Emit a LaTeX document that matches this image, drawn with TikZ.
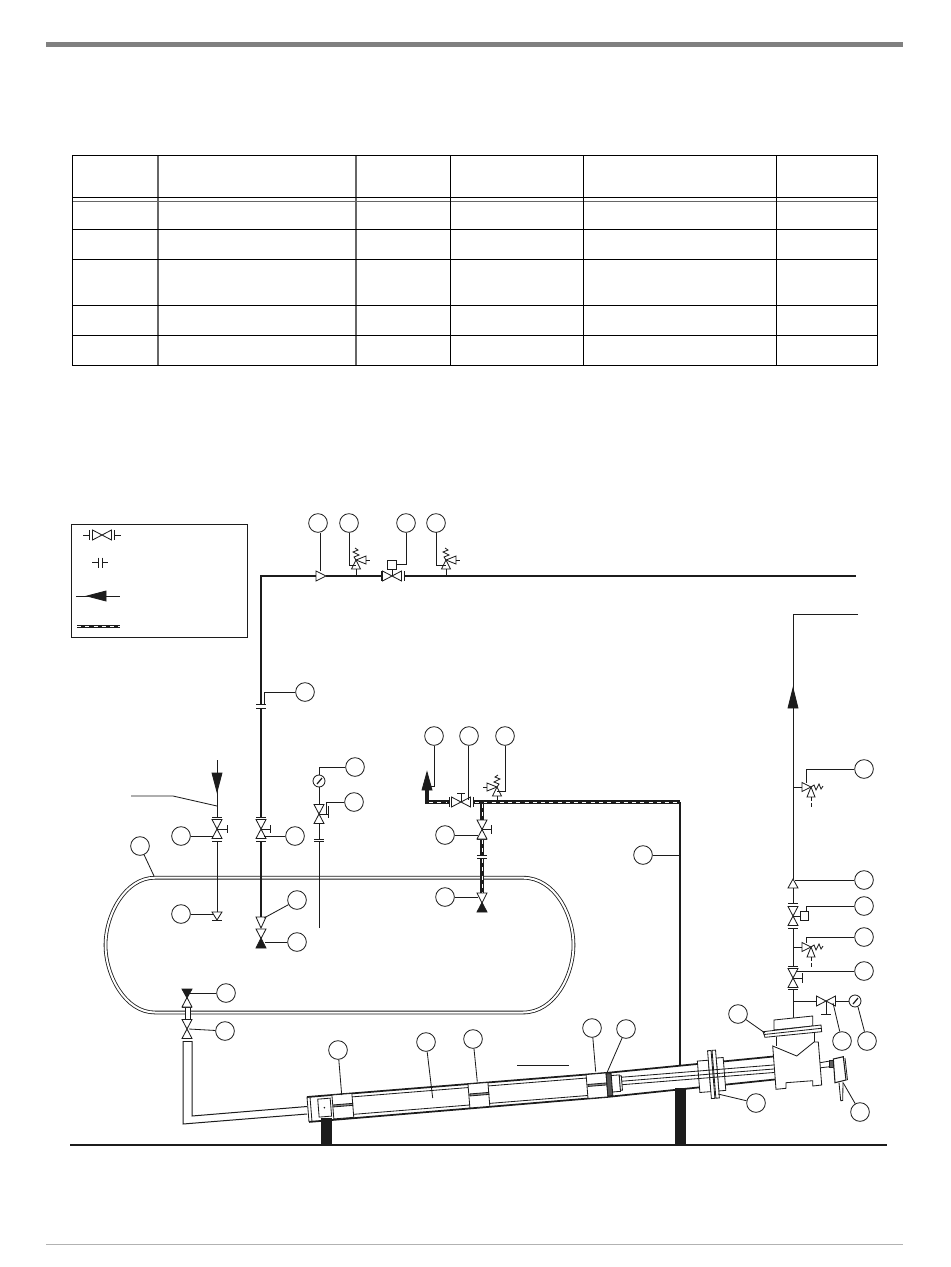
\documentclass[tikz,border=0pt]{standalone}
\usetikzlibrary{calc}
\definecolor{ink}{HTML}{1C1C1C}
\tikzset{
  ln/.style={draw=ink,line width=0.62pt,line join=miter},
  sym/.style={ln,fill=white},
  solid sym/.style={ln,fill=ink},
  pipe/.style={draw=ink,line width=2.1pt},
  dashpipe/.style={draw=ink,line width=2.4pt},
  dashcore/.style={draw=white,line width=0.7pt,dash pattern=on 3pt off 3.2pt},
  cal/.style={circle,draw=ink,line width=0.62pt,minimum size=14pt,inner sep=0pt},
  relief/.pic={
    \draw[sym] (0,0) -- (-4.5,9) -- (4.5,9) -- cycle;
    \draw[ln] (0,9) -- (0,16);
    \draw[sym] (0,0) -- (10,-4) -- (10,4) -- cycle;
    \draw[ln] (10,0) -- (14,0);
    \draw[ln] (0,0) -- (-2,-3) -- (3,-5) -- (-3,-8) -- (2,-10) -- (-1,-12);
  }
}
\newcommand{\VTri}[4][sym]{\draw[#1] (#2,#3) -- ({#2-5},#4) -- ({#2+5},#4) -- cycle;}
\newcommand{\HTri}[4][sym]{\draw[#1] (#3,#2) -- (#4,{#2-5}) -- (#4,{#2+5}) -- cycle;}
\newcommand{\VValve}[2]{\VTri{#1}{#2}{#2-9.5}\VTri{#1}{#2}{#2+9.5}}
\newcommand{\HValve}[2]{\HTri{#2}{#1}{#1-9.5}\HTri{#2}{#1}{#1+9.5}}
\newcommand{\VFl}[2]{\draw[ln] ({#1-5},#2) -- ({#1+5},#2);}
\newcommand{\HFl}[2]{\draw[ln] (#1,{#2-5}) -- (#1,{#2+5});}
\newcommand{\Gauge}[3]{\node[cal,minimum size=9pt] (#1) at (#2,#3) {};\draw[ink,line width=0.9pt] ({#2-2},{#3+3}) -- ({#2+3},{#3-3});}
\begin{document}
\begin{tikzpicture}[x=0.75pt,y=-0.75pt]
\useasboundingbox (0,0) rectangle (950,1267);
\fill[white] (0,0) rectangle (950,1267);
% page rules
\fill[black!50] (46,42) rectangle (903,47);
\draw[black!30,line width=0.7pt] (46,1244) -- (903,1244);
% table
\draw[black!60,line width=1.1pt] (158,155) -- (158,365) (356,155) -- (356,365);
\draw[black!60,line width=0.8pt] (72,201.5) -- (877,201.5);
\draw[black,line width=0.7pt] (450,155) -- (450,365) (583,155) -- (583,365) (776,155) -- (776,365);
\draw[black,line width=0.7pt] (72,197.5) -- (877,197.5) (72,229) -- (877,229) (72,259.5) -- (877,259.5) (72,305.5) -- (877,305.5) (72,335.5) -- (877,335.5);
\draw[black,line width=0.7pt] (72,155) rectangle (877,365);
% legend
\draw[ink,line width=0.7pt] (71.5,524.5) rectangle (247,637);
\draw[ln] (83,535) -- (89.5,535) (114,535) -- (121,535);
\HFl{89.5}{535}\HFl{114}{535}
\HValve{102}{535}
\draw[ln] (92,562.5) -- (98,562.5) (102,562.5) -- (108,562.5);
\HFl{98}{562.5}\HFl{102}{562.5}
\draw[ln] (76,596) -- (120,596);
\HTri[solid sym]{596}{87}{106}
\draw[dashpipe] (77,626.5) -- (120,626.5);
\draw[dashcore] (77,626.5) -- (120,626.5);
% tank
\draw[draw=ink,line width=0.62pt,double=white,double distance=1.5pt]
  (155,877.7) -- (523,877.7) .. controls (555,877.7) and (573.5,915) .. (573.5,945)
  .. controls (573.5,975) and (555,1012.5) .. (523,1012.5) -- (155,1012.5)
  .. controls (125,1012.5) and (105.5,975) .. (105.5,945)
  .. controls (105.5,915) and (125,877.7) .. (155,877.7) -- cycle;
% ground and supports
\draw[ink,line width=0.8pt] (70,1145) -- (887,1145);
\fill[ink] (321,1118) rectangle (332,1145);
\fill[ink] (675,1088) rectangle (686,1145);
% callouts
\foreach \n/\x/\y in {a1/318/523,a2/349/523,a3/406/523,a4/436/523,a5/305/692,
  b1/355/767,b2/354/802,b3/181/836,b4/295/836,b5/140/846,b6/181/914,b7/297/900,b8/297/942,b9/226/993,b10/225/1031,
  d1/434/736,d2/469/736,d3/505/736,d4/445/835,d5/445/897,d6/643/855,
  e1/864/769,e2/864/880,e3/864/906,e4/864/937,e5/864/971,e6/738/1014,e7/842/1041,e8/867/1041,e9/756/1103,e10/860/1112,
  f1/338/1050,f2/426/1042,f3/473/1039,f4/592/1028,f5/626/1029}
  {\node[cal] (\n) at (\x,\y) {};}
% ---- main discharge line
\draw[pipe] (261,704) -- (261,576) -- (316,576);
\draw[pipe] (326,576) -- (381,576);
\draw[pipe] (404,576) -- (856,576);
\HTri{576}{326}{316}
\pic[rotate=0] at (356,560) {relief};
\pic[rotate=0] at (446,560) {relief};
\HFl{381}{576}\HFl{404}{576}
\HValve{392}{576}
\draw[ln] (392,576) -- (392,569);
\draw[sym] (387.7,560.5) rectangle (396.7,569);
\coordinate (k1) at (320,571); \draw[ln] (k1 |- a1.south) -- (k1);
\coordinate (k2) at (356,565); \draw[ln] (a2.south) |- (k2);
\coordinate (k3) at (396.7,564); \draw[ln] (a3.south) |- (k3);
\coordinate (k4) at (446,565); \draw[ln] (436,532) |- (k4);
% ---- vertical main pipe
\VFl{261}{704}\VFl{261}{708}
\coordinate (k5) at (264,704); \draw[ln] (a5) -| (k5);
\draw[pipe] (261,708) -- (261,817);
\VFl{261}{817}\VFl{261}{841}
\VValve{261}{829}
\draw[ln] (261,829) -- (270,829) (270,825) -- (270,833);
\coordinate (k6) at (264,836); \draw[ln] (b4) -- (k6);
\draw[pipe] (261,841) -- (261,917);
\VTri{261}{928}{917}
\VTri{261}{938.5}{929}
\VTri[solid sym]{261}{938}{948}
\coordinate (k7) at (264,918); \draw[ln] (b7) -- (k7);
\coordinate (k8) at (265,942); \draw[ln] (b8) -- (k8);
% ---- gauge branch
\draw[ln] (319,928) -- (319,841) (319,839) -- (319,823) (319,804) -- (319,787);
\VFl{319}{839}\VFl{319}{841.5}
\VValve{319}{814}
\draw[ln] (319,814) -- (328,814) (328,806) -- (328,818);
\Gauge{g1}{319}{781}
\coordinate (k9) at (319,775); \draw[ln] (b1) -| (k9);
\coordinate (k10) at (326,814); \draw[ln] (b2) -| (k10);
% ---- inlet branch
\draw[ln] (217,760) -- (217,817) (217,841) -- (217,912);
\VTri[solid sym]{217}{792}{773}
\coordinate (k11) at (131,796); \coordinate (k12) at (173,796); \coordinate (k13) at (217,806);
\draw[ln] (k11) -- (k12) -- (k13);
\VFl{217}{817}\VFl{217}{841}
\VValve{217}{829}
\draw[ln] (217,829) -- (227,829) (227,825) -- (227,833);
\coordinate (k14) at (213,837); \draw[ln] (b3) -- (k14 |- b3);
\VTri{217}{920}{912}
\VFl{217}{920.5}
\draw[ln] (b6) -- (213,914);
\coordinate (k15) at (154,876); \draw[ln] (b5) -- (k15);
% ---- tank outlet
\draw[sym] (185,1007) rectangle (190,1021);
\VFl{187}{1007.5}\VFl{187}{1020.5}
\VTri[solid sym]{187}{998}{989}
\VTri{187}{997.5}{1007}
\draw[ln] (b9) -- (190,993);
\VValve{187}{1029}
\draw[ln] (b10) -- (189,1029);
% inlet tube to cylinder
\draw[ln] (183,1041) -- (192,1041);
\draw[ln,line width=0.75pt] (192,1041) -- (192,1116) -- (307,1106.5);
\draw[ln,line width=0.75pt] (183,1041) -- (183,1124) -- (307,1114);
% ---- dashed drive line
\draw[pipe] (680,802) -- (680,1066);
\draw[dashpipe] (427,790) -- (427,802) -- (449,802);
\draw[dashcore] (429,802) -- (447,802);
\draw[dashpipe] (473,802) -- (680,802);
\draw[dashcore] (475,802) -- (678,802);
\draw[dashpipe] (482,802) -- (482,820);
\draw[dashpipe] (482,839) -- (482,855);
\draw[dashpipe] (482,858) -- (482,893);
\draw[dashcore] (482,859) -- (482,893);
\draw[dashcore] (482,804) -- (482,820);
\draw[dashcore] (482,840) -- (482,855);
\VTri[solid sym]{427}{772}{790}
\HFl{449}{802}\HFl{473}{802}
\HValve{461}{802}
\draw[ln] (461,802) -- (461,793) (457,793) -- (465,793);
\coordinate (k16) at (430,786); \draw[ln] (d1.south) |- (k16);
\coordinate (k17) at (468.5,800); \draw[ln] (k17 |- d2.south) -- (k17);
\pic[xscale=-1] at (497,787) {relief};
\coordinate (k18) at (497,791); \draw[ln] (d3.south) |- (k18);
\VFl{482}{820}\VFl{482}{839}
\VValve{482}{829.5}
\draw[ln] (482,829.5) -- (491,829.5) (491,825) -- (491,834);
\VFl{482}{855.5}\VFl{482}{858}
\draw[ln] (d4) -- (478,835);
\VTri{482}{903}{893}
\VTri[solid sym]{482}{902.5}{912}
\draw[ln] (d5) -- (478,897);
\coordinate (k19) at (680,855); \draw[ln] (d6) -- (k19);
% ---- right hand line
\coordinate (k20) at (858,614);
\draw[ln,line width=0.75pt] (k20) -- (793,614) -- (793,879);
\VTri[solid sym]{793}{688}{708}
\draw[ln] (793,787) -- (801,787);
\pic[rotate=-90] at (811,787) {relief};
\draw[ln] (811,803) -- (811,807);
\coordinate (k21) at (806,783); \draw[ln] (e1) -| (k21);
\VTri{793}{879}{888}
\draw[ln] (e2) -- (795,880);
\draw[ln] (793,888) -- (793,903);
\VFl{793}{903.5}\VFl{793}{928}
\VValve{793}{916}
\draw[ln] (793,916) -- (800,916);
\draw[sym] (800,911.5) rectangle (808.5,920);
\coordinate (k22) at (806,911.5); \draw[ln] (e3) -| (k22);
\draw[ln] (793,928) -- (793,966);
\draw[ln] (793,947) -- (801,947);
\pic[rotate=-90] at (811,947) {relief};
\draw[ln] (811,963) -- (811,967);
\coordinate (k23) at (806,943); \draw[ln] (e4) -| (k23);
\VFl{793}{966}\VFl{793}{989}
\VValve{793}{978}
\draw[ln] (793,978) -- (802,978) (802,973) -- (802,983);
\draw[ln] (e5) -- (797,971);
\draw[ln] (793,989) -- (793,1019);
\draw[ln] (793,1001) -- (816,1001) (836,1001) -- (849,1001);
\HValve{826}{1001}
\draw[ln] (826,1001) -- (826,1014) (821,1014) -- (831,1014);
\Gauge{g2}{855}{1001}
\coordinate (k24) at (833,1003); \draw[ln] (e7) -- (k24);
\coordinate (k25) at (858,1007); \draw[ln] (e8) -- (k25);
% ---- valve body
\draw[sym] (774,1030) -- (774,1020) -- (812.7,1016) -- (812.7,1026) -- cycle;
\begin{scope}[shift={(307,1097)},rotate=4.6]
  % rod thick walls and cylinder
  \draw[ink,line width=1.3pt] (0,0) -- (300,0) -- (470,-3);
  \draw[ink,line width=1.3pt] (0,25) -- (300,24) -- (470,20);
  \draw[ln] (45,3.5) -- (300,3.5) (45,21) -- (300,21);
  \draw[ln] (0,0) -- (0,25) (3,0) -- (3,25);
  % blocks
  \foreach \u in {25,161.5,280}{
    \draw[sym] (\u,0) rectangle (\u+20,24);
    \draw[ln,fill=ink!50] (\u+1,10) rectangle (\u+20,12);
  }
  \draw[sym] (10.5,3) rectangle (23,21);
  \fill[ink] (16.5,12) circle (0.9);
  % head
  \draw[ln,fill=ink!75] (300,1) rectangle (305,23);
  \draw[sym] (305,3) rectangle (313,19.5);
  \draw[sym] (313,4) rectangle (315,18.5);
  % flange
  \draw[sym] (392,-4.5) rectangle (403,27);
  \draw[sym] (411,-6) rectangle (418,27);
  \draw[sym] (403,-14) rectangle (406.5,34);
  \draw[sym] (407.5,-14) rectangle (411,34);
  % rod lines
  \draw[ln] (315,5.5) -- (472,5.5) (315,9.5) -- (472,9.5) (315,13) -- (472,13);
\end{scope}
\draw[sym] (772.7,1046) -- (796.7,1056) -- (814,1042) -- (818.3,1042) -- (821.7,1085) -- (812.7,1086) -- (812.7,1080.7) -- (786,1082.7) -- (786,1088.3) -- (776,1089.3) -- cycle;
\draw[ln] (776,1037) -- (776,1046) (814,1032) -- (814,1042);
\draw[sym] (763,1031.7) -- (821,1025) -- (821.7,1031.7) -- (765,1037.3) -- cycle;
\draw[ln] (764,1034.5) -- (821.3,1028.3);
\draw[ln] (820,1062.7) -- (830,1061) (821,1067.7) -- (830,1066.7);
\draw[ln,fill=ink!70] (829.5,1060.5) rectangle (833,1067);
\draw[sym,line width=0.8pt] (833.3,1059) -- (843.3,1056.7) -- (846,1080) -- (835,1082.7) -- cycle;
\draw[ink,line width=0.6pt] (845,1058) -- (847.5,1080);
\draw[ln] (839,1082.7) -- (840.7,1100.7) -- (842.7,1100.5) -- (843,1082);
\coordinate (k26) at (765,1033); \draw[ln] (e6) -- (k26);
\coordinate (k27) at (718,1094); \draw[ln] (e9) -- (k27);
\coordinate (k28) at (843.3,1083); \draw[ln] (e10) -- (k28);
% cylinder leaders
\coordinate (k29) at (341.7,1095); \draw[ln] (f1) -- (k29);
\coordinate (k30) at (432.7,1098); \draw[ln] (f2) -- (k30);
\coordinate (k31) at (477.3,1081.7); \draw[ln] (f3) -- (k31);
\coordinate (k32) at (595.7,1071.7); \draw[ln] (f4) -- (k32);
\coordinate (k33) at (606.7,1073.3); \draw[ln] (f5) -- (k33);
\coordinate (k34) at (517,1065.5); \coordinate (k35) at (568.5,1065.5); \draw[ln] (k34) -- (k35);
\end{tikzpicture}
\end{document}
